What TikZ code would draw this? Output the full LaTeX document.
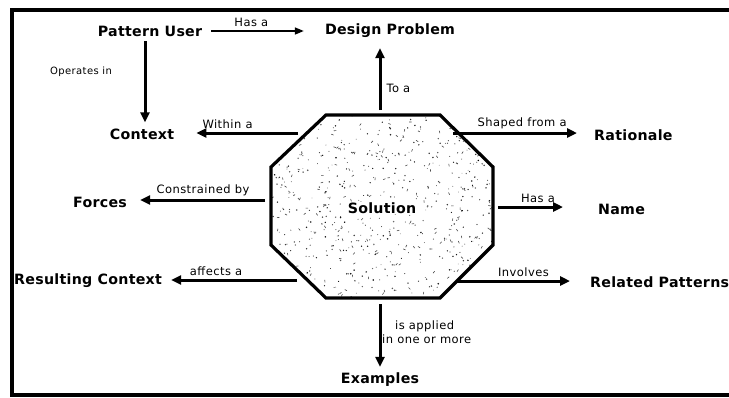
\documentclass[tikz,border=0pt]{standalone}
\usepackage{fontspec}
\setmainfont{DejaVu Sans}
\newfontfamily\labfont[LetterSpace=4]{DejaVu Sans}
\newfontfamily\conceptfont[LetterSpace=2]{DejaVu Sans}
\usetikzlibrary{arrows.meta}
\begin{document}
\begin{tikzpicture}[x=1pt,y=-1pt,
  concept/.style={font=\conceptfont\bfseries\fontsize{14.2}{16}\selectfont, inner sep=0pt},
  lbl/.style={font=\labfont\fontsize{11.5}{14}\selectfont, inner sep=0pt},
  smalllbl/.style={font=\labfont\fontsize{10}{12}\selectfont, inner sep=0pt},
  arr/.style={line width=3pt, -{Triangle[length=10pt,width=9pt]}},
  thinarr/.style={line width=1.6pt, -{Triangle[length=9pt,width=7pt]}},
  octa/.style={line width=3.2pt, line join=miter}]
\useasboundingbox (0,0) rectangle (729,397);
\fill[white] (0,0) rectangle (729,397);

% frame: left, top and bottom rules
\draw[line width=3.8pt] (729,10) -- (12,10) -- (12,395) -- (729,395);

% the solution octagon with its speckled fill
\coordinate (o1) at (326,115);
\coordinate (o2) at (440,115);
\coordinate (o3) at (493,167);
\coordinate (o4) at (493,245);
\coordinate (o5) at (440,298);
\coordinate (o6) at (326,298);
\coordinate (o7) at (271,245);
\coordinate (o8) at (271,167);
\begin{scope}
  \clip (o1) -- (o2) -- (o3) -- (o4) -- (o5) -- (o6) -- (o7) -- (o8) -- cycle;
  \pgfmathsetseed{42}
  \foreach \i in {1,...,520} {
    \pgfmathsetmacro{\px}{382+112*rand}
    \pgfmathsetmacro{\py}{206+92*rand}
    \pgfmathsetmacro{\pr}{0.4+0.45*rnd}
    \pgfmathsetmacro{\pg}{55+45*rnd}
    \fill[black!\pg] (\px,\py) circle[radius=\pr];
  }
  \foreach \i in {1,...,160} {
    \pgfmathsetmacro{\px}{382+112*rand}
    \pgfmathsetmacro{\py}{206+92*rand}
    \pgfmathsetmacro{\pa}{360*rnd}
    \draw[black!70, line width=0.6pt] (\px,\py) -- ++(\pa:2.5);
  }
\end{scope}
\draw[octa] (o1) -- (o2) -- (o3) -- (o4) -- (o5) -- (o6) -- (o7) -- (o8) -- cycle;

% concepts
\node[concept, fill=white, inner sep=1pt] (SOL) at (382,208) {Solution};
\node[concept] (PU)   at (150,31)  {Pattern User};
\node[concept] (DP)   at (390,31)  {Design Problem};
\node[concept] (CTX)  at (142,134) {Context};
\node[concept] (FOR)  at (100,202) {Forces};
\node[concept, anchor=west] (RC)   at (14,281)  {Resulting Context};
\node[concept, anchor=west] (RAT)  at (594,135) {Rationale};
\node[concept, anchor=west] (NAME) at (598,209) {Name};
\node[concept, anchor=west] (RP)   at (590,282) {Related Patterns};
\node[concept] (EX)   at (380,380) {Examples};

% arrow starts around the octagon
\coordinate (s-dp)   at (380,110);
\coordinate (s-ctx)  at (298,133);
\coordinate (s-for)  at (265,200);
\coordinate (s-rc)   at (297,280);
\coordinate (s-rat)  at (453,133);
\coordinate (s-name) at (498,207);
\coordinate (s-rp)   at (457,281);
\coordinate (s-ex)   at (380,304);

% connectors
\draw[thinarr, shorten <=9pt, shorten >=21pt] (PU.east) -- (DP.west)
  node[lbl, pos=0.4, above=4pt] {Has a};
\draw[arr, shorten <=5pt, shorten >=6pt] (PU.south -| 145,0) -- (CTX.north -| 145,0);
\node[smalllbl] (opin) at (81,72) {Operates in};
\draw[arr, shorten >=10pt] (s-dp) -- (s-dp |- DP.south)
  node[lbl, pos=0.3, right=5pt] {To a};
\draw[arr, shorten >=22pt] (s-ctx) -- (s-ctx -| CTX.east)
  node[lbl, pos=0.57, above=3pt] {Within a};
\draw[arr, shorten >=13pt] (s-for) -- (s-for -| FOR.east)
  node[lbl, pos=0.45, above=3pt] {Constrained by};
\draw[arr, shorten >=9pt] (s-rc) -- (s-rc -| RC.east)
  node[lbl, pos=0.6, above=3pt] {affects a};
\draw[arr, shorten >=17pt] (s-rat) -- (s-rat -| RAT.west)
  node[lbl, pos=0.49, above=3pt] {Shaped from a};
\draw[arr, shorten >=35pt] (s-name) -- (s-name -| NAME.west)
  node[lbl, pos=0.4, above=3pt] {Has a};
\draw[arr, shorten >=20pt] (s-rp) -- (s-rp -| RP.west)
  node[lbl, pos=0.5, above=3pt] {Involves};
\draw[arr, shorten >=6pt] (s-ex) -- (s-ex |- EX.north);
\node[lbl, anchor=north west, align=left] (apl) at (382,321) {\hspace*{13pt}is applied\\in one or more};
\end{tikzpicture}
\end{document}
